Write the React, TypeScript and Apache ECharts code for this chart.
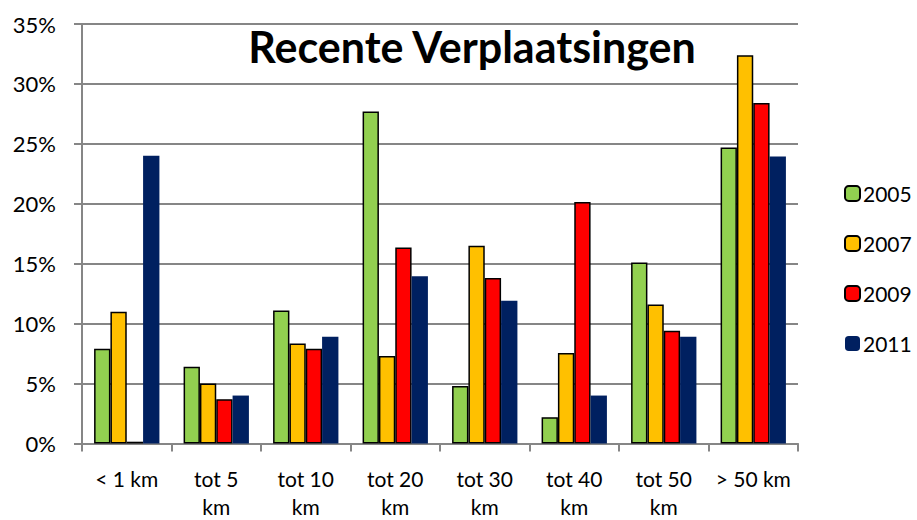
import React, { useEffect, useRef } from "react";
import * as echarts from "echarts";

const categories = ["< 1 km", "tot 5\nkm", "tot 10\nkm", "tot 20\nkm", "tot 30\nkm", "tot 40\nkm", "tot 50\nkm", "> 50 km"];
const y2005 = [7.9, 6.4, 11.1, 27.7, 4.8, 2.2, 15.1, 24.7];
const y2007 = [11.0, 5.0, 8.35, 7.3, 16.5, 7.55, 11.6, 32.4];
const y2009 = [0.15, 3.7, 7.9, 16.35, 13.8, 20.15, 9.4, 28.4];
const y2011 = [24.0, 4.0, 8.9, 13.95, 11.9, 4.0, 8.9, 23.95];
const seriesNames = ["2005", "2007", "2009", "2011"];
const colors = ["#92D050", "#FFC000", "#FF0000", "#002060"];

export default function App() {
  const ref = useRef<HTMLDivElement>(null);
  useEffect(() => {
    if (!ref.current) return;
    const chart = echarts.init(ref.current, null, { renderer: "svg" });
    const font = "Lato, 'Open Sans', sans-serif";
    const data = [y2005, y2007, y2009, y2011];
    chart.setOption({
      animation: false,
      backgroundColor: "#ffffff",
      textStyle: { fontFamily: font, color: "#000" },
      title: {
        text: "Recente Verplaatsingen",
        left: 467,
        textAlign: "center",
        top: 20,
        textStyle: { fontFamily: font, fontSize: 43, fontWeight: "bold", color: "#000" },
      },
      legend: {
        orient: "vertical",
        left: 839,
        top: 178,
        itemGap: 29,
        itemWidth: 15,
        itemHeight: 15,
        data: seriesNames,
        textStyle: { fontFamily: font, fontSize: 21, color: "#000", padding: [0, 0, 0, -2] },
      },
      grid: { left: 82, right: 119, top: 24, bottom: 76.5, containLabel: false, outerBoundsMode: "none" },
      xAxis: {
        type: "category",
        data: categories,
        axisLine: { show: true, lineStyle: { color: "#868686", width: 2 } },
        axisTick: { show: true, length: 8, lineStyle: { color: "#868686", width: 2 } },
        axisLabel: { interval: 0, fontSize: 21, lineHeight: 28, margin: 21, color: "#000", fontFamily: font },
      },
      yAxis: {
        type: "value",
        min: 0,
        max: 35,
        interval: 5,
        axisLine: { show: true, lineStyle: { color: "#868686", width: 2 } },
        axisTick: { show: true, length: 8, lineStyle: { color: "#868686", width: 2 } },
        axisLabel: { formatter: "{value}%", fontSize: 22, margin: 26, color: "#000", fontFamily: font },
        splitLine: { show: true, lineStyle: { color: "#868686", width: 2 } },
      },
      series: seriesNames.map((name, i) => ({
        name,
        type: "bar",
        data: data[i],
        barGap: "0%",
        barCategoryGap: "27%",
        itemStyle: {
          color: colors[i],
          borderColor: i < 3 ? "#000" : colors[i],
          borderWidth: i < 3 ? 1.5 : 0,
        },
      })),
    });
    return () => chart.dispose();
  }, []);
  return <div ref={ref} style={{ position: "fixed", left: 0, top: 0, width: 917, height: 520 }} />;
}
